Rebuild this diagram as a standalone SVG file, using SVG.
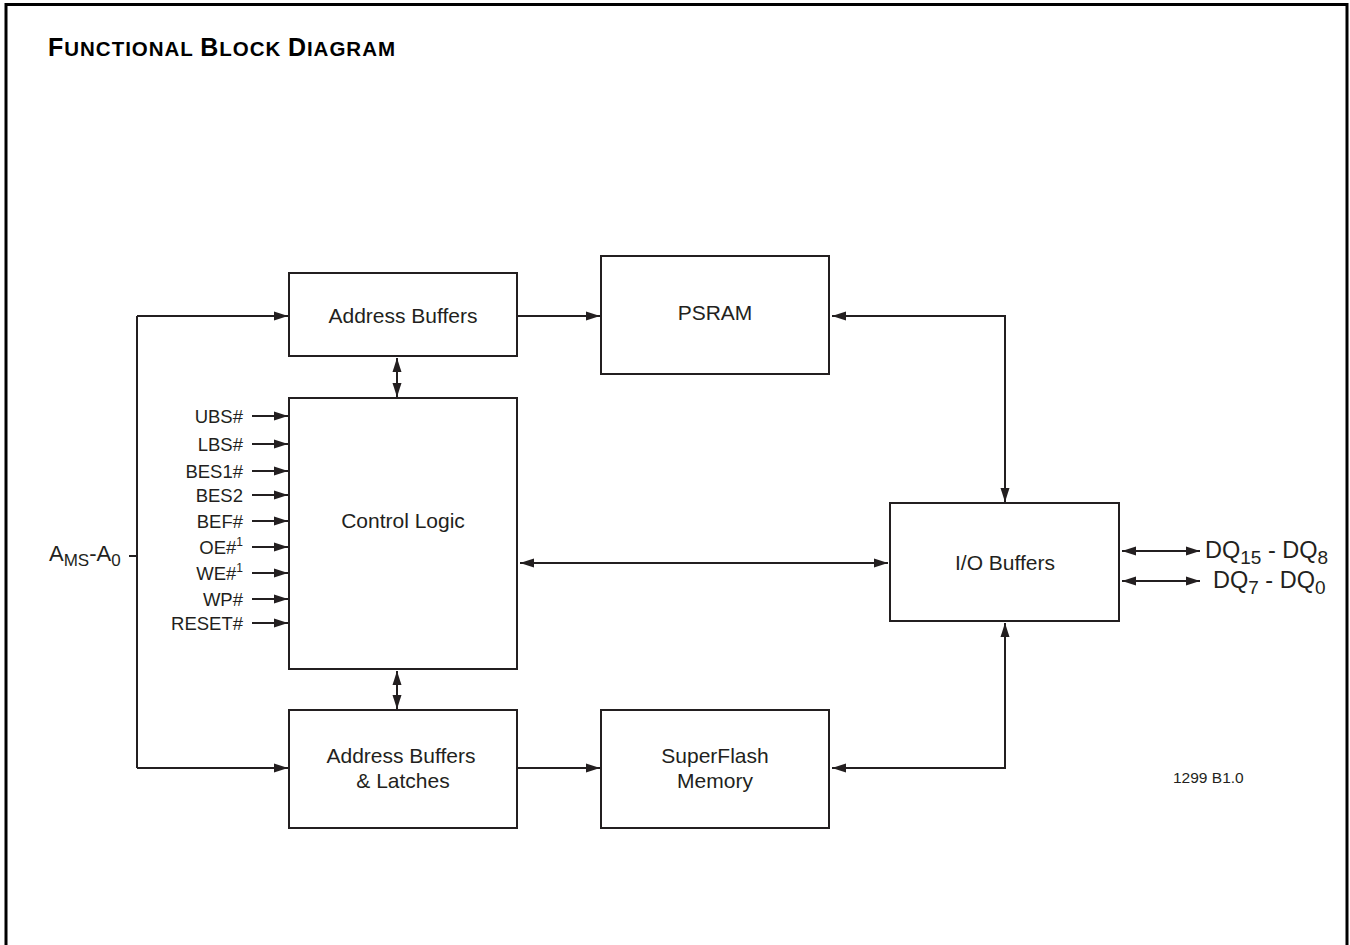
<svg xmlns="http://www.w3.org/2000/svg" width="1350" height="945" viewBox="0 0 1350 945">
<style>
.frame{fill:none;stroke:#000;stroke-width:3}
.box{fill:#fff;stroke:#231f20;stroke-width:2}
.ln{fill:none;stroke:#231f20;stroke-width:2}
.t{font-family:"Liberation Sans",Arial,sans-serif;fill:#231f20}
.bt{font-size:21px;text-anchor:middle}
.sig{font-size:18.5px;text-anchor:end}
.title{font-family:"Liberation Sans",Arial,sans-serif;font-weight:bold;fill:#000}
</style>
<defs>
<marker id="ah" markerUnits="userSpaceOnUse" markerWidth="16" markerHeight="12" refX="14" refY="5.5" orient="auto-start-reverse" viewBox="0 0 16 12">
<path d="M0,1 L14,5.5 L0,10 z" fill="#231f20"/>
</marker>
</defs>
<rect width="1350" height="945" fill="#fff"/>
<path class="frame" d="M6,945 V4.5 H1347 V945"/>
<text class="title" x="48" y="56" textLength="347" lengthAdjust="spacing"><tspan font-size="25">F</tspan><tspan font-size="20.5">UNCTIONAL </tspan><tspan font-size="25">B</tspan><tspan font-size="20.5">LOCK </tspan><tspan font-size="25">D</tspan><tspan font-size="20.5">IAGRAM</tspan></text>

<g id="connectors">
<path class="ln" d="M137,316 V768"/>
<path class="ln" d="M129,556 H137"/>
<path class="ln" d="M137,316 H288" marker-end="url(#ah)"/>
<path class="ln" d="M137,768 H288" marker-end="url(#ah)"/>
<path class="ln" d="M517,316 H600" marker-end="url(#ah)"/>
<path class="ln" d="M517,768 H600" marker-end="url(#ah)"/>
<path class="ln" d="M397,358 V397" marker-start="url(#ah)" marker-end="url(#ah)"/>
<path class="ln" d="M397,671 V709" marker-start="url(#ah)" marker-end="url(#ah)"/>
<path class="ln" d="M520,563 H888" marker-start="url(#ah)" marker-end="url(#ah)"/>
<path class="ln" d="M832,316 H1005 V502" marker-start="url(#ah)" marker-end="url(#ah)"/>
<path class="ln" d="M832,768 H1005 V623" marker-start="url(#ah)" marker-end="url(#ah)"/>
<path class="ln" d="M1122,551 H1200" marker-start="url(#ah)" marker-end="url(#ah)"/>
<path class="ln" d="M1122,581 H1200" marker-start="url(#ah)" marker-end="url(#ah)"/>
<path class="ln" d="M252,416 H288" marker-end="url(#ah)"/>
<path class="ln" d="M252,444 H288" marker-end="url(#ah)"/>
<path class="ln" d="M252,471 H288" marker-end="url(#ah)"/>
<path class="ln" d="M252,495 H288" marker-end="url(#ah)"/>
<path class="ln" d="M252,521 H288" marker-end="url(#ah)"/>
<path class="ln" d="M252,547 H288" marker-end="url(#ah)"/>
<path class="ln" d="M252,573 H288" marker-end="url(#ah)"/>
<path class="ln" d="M252,599 H288" marker-end="url(#ah)"/>
<path class="ln" d="M252,623 H288" marker-end="url(#ah)"/>
</g>

<g id="address-buffers">
<rect class="box" x="289" y="273" width="228" height="83"/>
<text class="t bt" x="403" y="323">Address Buffers</text>
</g>
<g id="psram">
<rect class="box" x="601" y="256" width="228" height="118"/>
<text class="t bt" x="715" y="320">PSRAM</text>
</g>
<g id="control-logic">
<rect class="box" x="289" y="398" width="228" height="271"/>
<text class="t bt" x="403" y="528">Control Logic</text>
</g>
<g id="address-latches">
<rect class="box" x="289" y="710" width="228" height="118"/>
<text class="t bt" x="401" y="763">Address Buffers</text>
<text class="t bt" x="403" y="788">&amp; Latches</text>
</g>
<g id="superflash">
<rect class="box" x="601" y="710" width="228" height="118"/>
<text class="t bt" x="715" y="763">SuperFlash</text>
<text class="t bt" x="715" y="788">Memory</text>
</g>
<g id="io-buffers">
<rect class="box" x="890" y="503" width="229" height="118"/>
<text class="t bt" x="1005" y="570">I/O Buffers</text>
</g>

<g id="signals">
<text class="t sig" x="243" y="423">UBS#</text>
<text class="t sig" x="243" y="451">LBS#</text>
<text class="t sig" x="243" y="478">BES1#</text>
<text class="t sig" x="243" y="502">BES2</text>
<text class="t sig" x="243" y="528">BEF#</text>
<text class="t sig" x="243" y="554">OE#<tspan font-size="12" dy="-8">1</tspan></text>
<text class="t sig" x="243" y="580">WE#<tspan font-size="12" dy="-8">1</tspan></text>
<text class="t sig" x="243" y="606">WP#</text>
<text class="t sig" x="243" y="630">RESET#</text>
</g>

<g id="address-label">
<text class="t" x="49" y="561" font-size="22">A<tspan font-size="17" dy="5">MS</tspan><tspan dy="-5">-A</tspan><tspan font-size="17" dy="5">0</tspan></text>
</g>
<g id="dq-labels">
<text class="t" x="1205" y="558" font-size="23.5">DQ<tspan font-size="19" dy="6">15</tspan><tspan dy="-6"> - DQ</tspan><tspan font-size="19" dy="6">8</tspan></text>
<text class="t" x="1213" y="588" font-size="23.5">DQ<tspan font-size="19" dy="6">7</tspan><tspan dy="-6"> - DQ</tspan><tspan font-size="19" dy="6">0</tspan></text>
</g>
<text class="t" x="1173" y="783" font-size="15.5">1299 B1.0</text>
</svg>
